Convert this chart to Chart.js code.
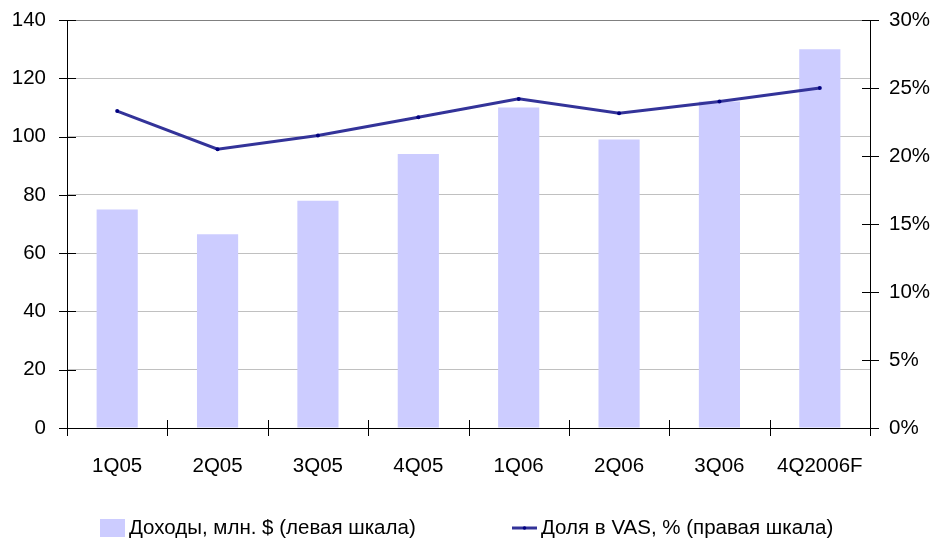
<!DOCTYPE html>
<html>
<head>
<meta charset="utf-8">
<script src="https://cdn.jsdelivr.net/npm/chart.js@4"></script>
<style>
  html, body { margin: 0; padding: 0; background: #fff; }
  #wrap { width: 936px; height: 541px; position: relative; }
</style>
</head>
<body>
<div id="wrap"><canvas id="c" width="936" height="541"></canvas></div>
<script>
const categories = ['1Q05', '2Q05', '3Q05', '4Q05', '1Q06', '2Q06', '3Q06', '4Q2006F'];
const revenue = [75, 66.5, 78, 94, 110, 99, 112, 130];
const vasShare = [23.3, 20.5, 21.5, 22.85, 24.2, 23.15, 24.0, 25.0];
const leftTicks = [0, 20, 40, 60, 80, 100, 120, 140];
const rightTicks = [0, 5, 10, 15, 20, 25, 30];
const revenueLabel = 'Доходы, млн. $ (левая шкала)';
const shareLabel = 'Доля в VAS, % (правая шкала)';

const FONT = "'Liberation Sans', Arial, sans-serif";
const FSIZE = 20.5;

const crossTicks = {
  id: 'crossTicks',
  afterDraw(chart) {
    const ctx = chart.ctx;
    const a = chart.chartArea;
    const x = chart.scales.x, yl = chart.scales.y, yr = chart.scales.y2;
    ctx.save();
    ctx.strokeStyle = '#000';
    ctx.lineWidth = 1;
    ctx.beginPath();
    yl.ticks.forEach(t => {
      const py = Math.round(yl.getPixelForValue(t.value)) + 0.5;
      ctx.moveTo(a.left - 8, py); ctx.lineTo(a.left + 9, py);
    });
    yr.ticks.forEach(t => {
      const py = Math.round(yr.getPixelForValue(t.value)) + 0.5;
      ctx.moveTo(a.right - 8, py); ctx.lineTo(a.right + 9, py);
    });
    const n = categories.length;
    for (let i = 0; i <= n; i++) {
      let px;
      if (i === 0) px = a.left;
      else if (i === n) px = a.right;
      else px = (x.getPixelForValue(i - 1) + x.getPixelForValue(i)) / 2;
      px = Math.round(px) + 0.5;
      ctx.moveTo(px, a.bottom - 8); ctx.lineTo(px, a.bottom + 8);
    }
    ctx.stroke();
    ctx.restore();
  }
};

const customLegend = {
  id: 'customLegend',
  afterDraw(chart) {
    const ctx = chart.ctx;
    const ds = chart.data.datasets;
    const cy = 528;
    const starts = [100, 512];
    ctx.save();
    ctx.font = FSIZE + 'px ' + FONT;
    ctx.textBaseline = 'middle';
    ctx.fillStyle = '#000';
    ds.forEach((d, i) => {
      const bx = starts[i];
      if (d.type === 'bar') {
        ctx.fillStyle = d.backgroundColor;
        ctx.fillRect(bx, cy - 9, 25, 18);
      } else {
        ctx.strokeStyle = d.borderColor;
        ctx.lineWidth = 3;
        ctx.beginPath(); ctx.moveTo(bx, cy); ctx.lineTo(bx + 25, cy); ctx.stroke();
        ctx.fillStyle = d.pointBackgroundColor;
        ctx.beginPath(); ctx.arc(bx + 12.5, cy, 1.8, 0, Math.PI * 2); ctx.fill();
      }
      ctx.fillStyle = '#000';
      ctx.fillText(d.label, bx + 29, cy);
    });
    ctx.restore();
  }
};

new Chart(document.getElementById('c'), {
  data: {
    labels: categories,
    datasets: [
      {
        type: 'bar',
        label: revenueLabel,
        data: revenue,
        backgroundColor: '#ccccff',
        borderWidth: 0,
        barPercentage: 0.41,
        categoryPercentage: 1.0,
        yAxisID: 'y',
        order: 2
      },
      {
        type: 'line',
        label: shareLabel,
        data: vasShare,
        borderColor: '#333399',
        borderWidth: 3,
        pointRadius: 2,
        pointBackgroundColor: '#000080',
        pointBorderWidth: 0,
        tension: 0,
        yAxisID: 'y2',
        order: 1
      }
    ]
  },
  options: {
    responsive: false,
    animation: false,
    devicePixelRatio: 1,
    layout: { padding: { top: 20, left: 0, right: 0, bottom: 0 } },
    plugins: {
      legend: { display: false },
      tooltip: { enabled: false }
    },
    scales: {
      x: {
        type: 'category',
        offset: true,
        grid: { display: true, drawOnChartArea: false, drawTicks: false },
        border: { display: true, color: '#000', width: 1 },
        ticks: { color: '#000', font: { family: FONT, size: FSIZE }, padding: 26, maxRotation: 0, autoSkip: false },
        afterFit(s) { s.height = 113; s.paddingLeft = 0; s.paddingRight = 0; }
      },
      y: {
        type: 'linear',
        position: 'left',
        min: 0, max: 140,
        afterBuildTicks(s) { s.ticks = leftTicks.map(v => ({ value: v })); },
        grid: {
          drawTicks: false,
          color: ctx => (ctx.tick && ctx.tick.value === 140) ? '#808080' : '#c0c0c0',
          lineWidth: 1
        },
        border: { display: true, color: '#000', width: 1 },
        ticks: { color: '#000', font: { family: FONT, size: FSIZE }, padding: 21 },
        afterFit(s) { s.width = 67; s.paddingTop = 0; s.paddingBottom = 0; }
      },
      y2: {
        type: 'linear',
        position: 'right',
        min: 0, max: 30,
        afterBuildTicks(s) { s.ticks = rightTicks.map(v => ({ value: v })); },
        grid: { drawOnChartArea: false, drawTicks: false },
        border: { display: true, color: '#000', width: 1 },
        ticks: { color: '#000', font: { family: FONT, size: FSIZE }, padding: 19, callback: v => v + '%' },
        afterFit(s) { s.width = 66; s.paddingTop = 0; s.paddingBottom = 0; }
      }
    }
  },
  plugins: [crossTicks, customLegend]
});
</script>
</body>
</html>
